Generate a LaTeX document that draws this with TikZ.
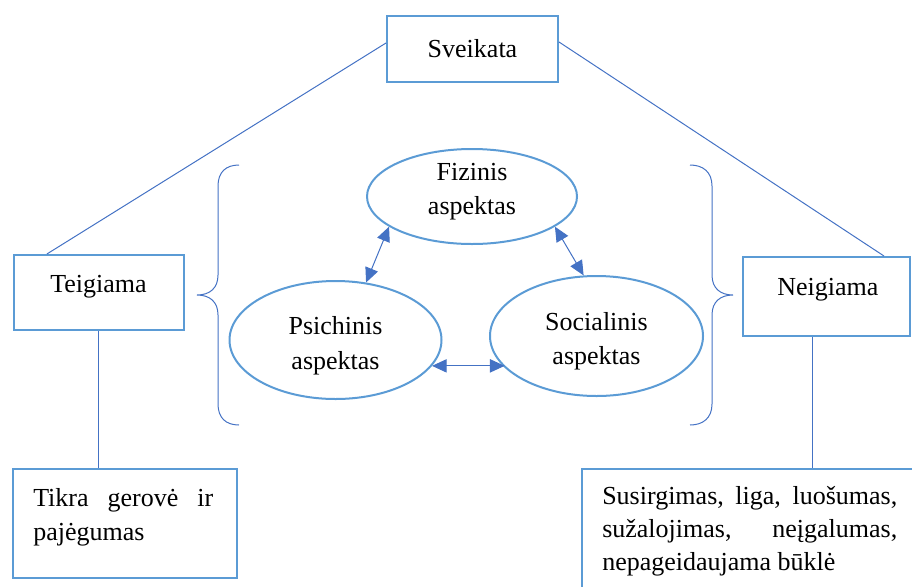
\documentclass[tikz,border=0pt]{standalone}
\usepackage{fontspec}
\setmainfont{Liberation Serif}
\usetikzlibrary{shapes.geometric,arrows.meta,calc}
\definecolor{boxblue}{HTML}{5B9BD5}
\definecolor{lineblue}{HTML}{4472C4}
\begin{document}
\begin{tikzpicture}[x=0.75pt,y=-0.75pt,
  every node/.style={font=\fontsize{19.5}{25.5}\selectfont},
  box/.style={draw=boxblue,line width=1.5pt,rectangle,inner sep=0pt},
  asp/.style={draw=boxblue,line width=1.5pt,ellipse,inner sep=0pt},
  conn/.style={draw=lineblue,line width=0.75pt},
  dbl/.style={conn,{Triangle[length=11pt,width=10pt]}-{Triangle[length=11pt,width=10pt]}},
  txt/.style={inner sep=0pt,align=left},
  ctxt/.style={inner sep=0pt,align=center,font=\fontsize{19.5}{26}\selectfont}
]
\useasboundingbox (0,0) rectangle (912,586);
\clip (0,0) rectangle (912,586);

% top box
\node[box,minimum width=128.25pt,minimum height=49.5pt] (svk) at (472.5,49) {Sveikata};

% side boxes
\node[box,minimum width=127.5pt,minimum height=56.25pt,
      label={[txt,yshift=4pt]center:Teigiama}] (teig) at (98.5,292.5) {};
\node[box,minimum width=125.25pt,minimum height=59.25pt,
      label={[txt,yshift=4.8pt,xshift=1pt]center:Neigiama}] (neig) at (826.5,296.5) {};

% bottom boxes
\node[box,minimum width=168pt,minimum height=81.75pt,
      label={[txt,anchor=north west,xshift=15.75pt,yshift=-15pt]north west:{\makebox[135pt][s]{Tikra gerovė ir}\\pajėgumas}}]
      (tikra) at (125,523.5) {};
\node[box,minimum width=262.5pt,minimum height=102pt,
      label={[txt,anchor=north west,xshift=15.75pt,yshift=-13.5pt,font=\fontsize{19.5}{24.8}\selectfont]north west:{\makebox[221.25pt][s]{Susirgimas, liga, luošumas,}\\\makebox[221.25pt][s]{sužalojimas, neįgalumas,}\\nepageidaujama būklė}}]
      (sus) at (757,537) {};

% aspects
\node[asp,minimum width=157.5pt,minimum height=71.25pt,
      label={[ctxt,yshift=3.75pt]center:Fizinis\\aspektas}] (fiz) at (472,196.5) {};
\node[asp,minimum width=159pt,minimum height=88.5pt,
      label={[ctxt,yshift=-4.5pt]center:Psichinis\\aspektas}] (psi) at (335.5,340) {};
\node[asp,minimum width=159.75pt,minimum height=90pt,
      label={[ctxt,yshift=-4pt]center:Socialinis\\aspektas}] (soc) at (596.5,336) {};

% connectors
\draw[conn] ($(svk.west)+(0,-6)$) -- ($(teig.north west)!0.2!(teig.north east)$);
\draw[conn] ($(svk.east)+(0,-7)$) -- ($(neig.north west)!0.84!(neig.north east)$);
\draw[conn] (teig.south) -- (teig.south |- tikra.north);
\coordinate (nb) at ($(neig.south west)!0.42!(neig.south east)$);
\draw[conn] (nb) -- (nb |- sus.north);

% arrows
\draw[dbl] (fiz.200) -- (psi.62);
\draw[dbl] (fiz.340) -- (soc.102);
\draw[dbl] (psi.345) -- (psi.345 -| soc.199);

% braces
\draw[conn] (239,165) .. controls (226,165) and (218,172) .. (218,186) -- (218,275)
  .. controls (218,288) and (210,295) .. (197,295)
  .. controls (210,295) and (218,302) .. (218,315) -- (218,404)
  .. controls (218,418) and (226,425) .. (239,425);
\draw[conn] (690,165) .. controls (703,165) and (712,172) .. (712,186) -- (712,275)
  .. controls (712,288) and (720,295) .. (733,295)
  .. controls (720,295) and (712,302) .. (712,315) -- (712,404)
  .. controls (712,418) and (703,425) .. (690,425);
\end{tikzpicture}
\end{document}
